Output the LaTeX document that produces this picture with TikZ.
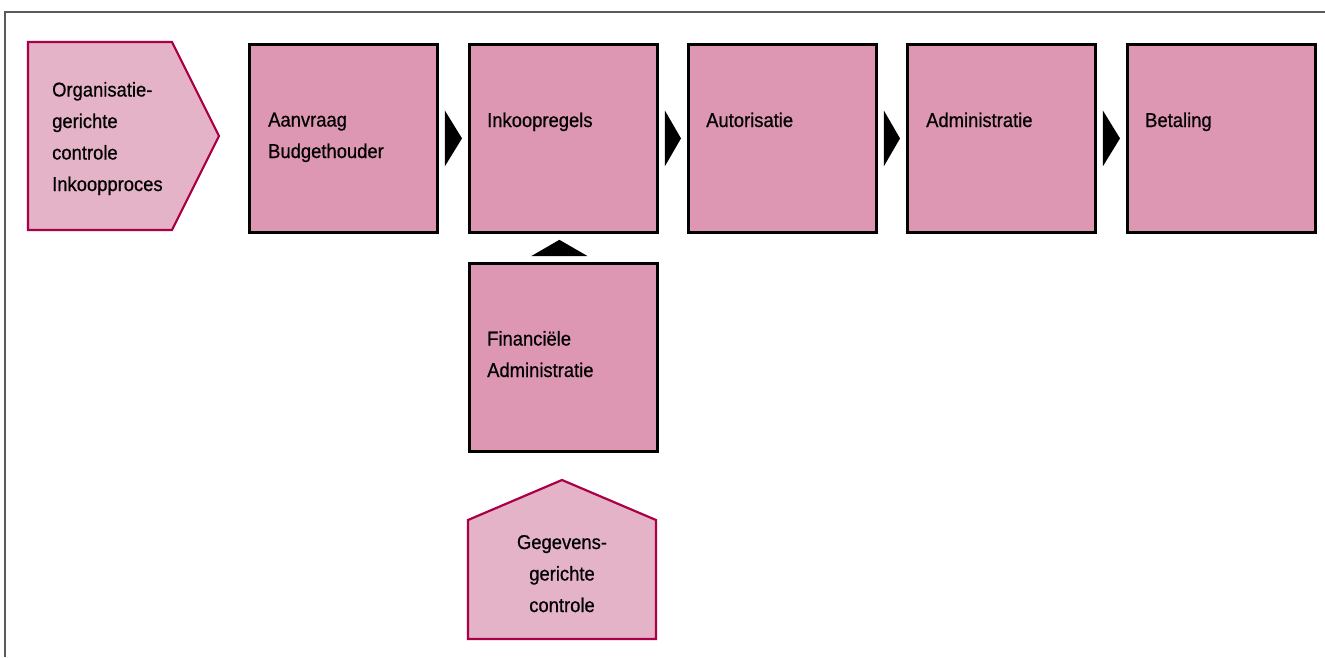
\documentclass[tikz,border=0pt]{standalone}
\usepackage{fontspec}
\setmainfont{Liberation Sans}[FakeStretch=0.92,FakeBold=0.6]
\usetikzlibrary{calc}
\definecolor{boxfill}{RGB}{221,151,178}
\definecolor{lightfill}{RGB}{229,179,200}
\definecolor{crimson}{RGB}{170,0,72}
\definecolor{framegray}{RGB}{90,90,90}
\tikzset{
  procbox/.style={draw=black, line width=2.8pt, fill=boxfill, minimum width=188pt, minimum height=188pt, inner sep=0pt, anchor=north west},
  boxtext/.style={anchor=base west, inner sep=0pt, align=left, font=\fontsize{20}{31.5}\selectfont},
  ctext/.style={anchor=base, inner sep=0pt, align=center, font=\fontsize{20}{31.5}\selectfont},
  tri/.style={fill=black},
  shield/.style={draw=crimson, line width=2.2pt, fill=lightfill, line join=miter}
}
\begin{document}
\begin{tikzpicture}[x=1pt,y=-1pt]
\useasboundingbox (0,0) rectangle (1325,657);
% frame
\draw[framegray, line width=1.6pt] (1325,12) -- (5,12) -- (5,657);
% boxes
\node[procbox] (aan) at (248,43) {};
\node[procbox] (ink) at (468,43) {};
\node[procbox] (aut) at (687,43) {};
\node[procbox] (adm) at (906,43) {};
\node[procbox] (bet) at (1126,43) {};
\node[procbox] (fin) at (468,262) {};
% box texts (base = last line)
\node[boxtext] (taan) at (268,158) {Aanvraag\\Budgethouder};
\node[boxtext] (tink) at (487,127) {Inkoopregels};
\node[boxtext] (taut) at (706,127) {Autorisatie};
\node[boxtext] (tadm) at (926,127) {Administratie};
\node[boxtext] (tbet) at (1145,127) {Betaling};
\node[boxtext] (tfin) at (487,377) {Financiële\\Administratie};
% arrow triangles between boxes
\foreach \a/\b in {aan/ink, ink/aut, aut/adm, adm/bet}{
  \fill[tri] ($(\a.east)+(6,-28)$) -- ($(\b.west)+(-6,0)$) -- ($(\a.east)+(6,28)$) -- cycle;
}
% up triangle
\fill[tri] ($(fin.north)+(-32,-6)$) -- ($(ink.south)+(-4,6)$) -- ($(fin.north)+(24,-6)$) -- cycle;
% organisatie pentagon
\coordinate (o1) at (28,42);
\coordinate (o2) at (172,42);
\coordinate (o3) at (219,136);
\coordinate (o4) at (172,230);
\coordinate (o5) at (28,230);
\draw[shield] (o1) -- (o2) -- (o3) -- (o4) -- (o5) -- cycle;
\node[boxtext] (torg) at (52,191) {Organisatie-\\gerichte\\controle\\Inkoopproces};
% gegevens house
\coordinate (g1) at (468,520);
\coordinate (g2) at (562,480);
\coordinate (g3) at (656,520);
\coordinate (g4) at (656,639);
\coordinate (g5) at (468,639);
\draw[shield] (g1) -- (g2) -- (g3) -- (g4) -- (g5) -- cycle;
\node[ctext] (tgeg) at (562,612) {Gegevens-\\gerichte\\controle};
\end{tikzpicture}
\end{document}
